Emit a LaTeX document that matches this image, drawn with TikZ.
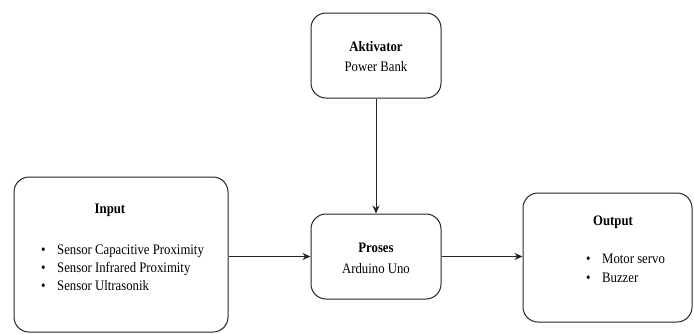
\documentclass[tikz,border=0pt]{standalone}
\usepackage{fontspec}
\setmainfont[FakeStretch=0.88]{Liberation Serif}
\usetikzlibrary{arrows.meta}
\tikzset{
  box/.style={draw=black!85, line width=1pt, rounded corners=15pt, fill=white, inner sep=0pt},
  txt/.style={inner sep=0pt, anchor=base, font=\fontsize{14.5}{16}\selectfont},
  ttl/.style={txt, font=\fontsize{14.5}{16}\selectfont\bfseries},
  itm/.style={inner sep=0pt, anchor=base west, font=\fontsize{14.5}{16}\selectfont},
  arr/.style={draw=black!85, line width=1pt, -{Stealth[length=8pt,width=7pt]}}
}
\newcommand{\bul}{\textbullet\hspace{11.5pt}}
\begin{document}
\begin{tikzpicture}[x=1pt,y=-1pt]
\useasboundingbox (0,0) rectangle (694,333);
% boxes
\node[box, minimum width=130pt, minimum height=85pt] (akt) at (376,55.5) {};
\node[box, minimum width=130pt, minimum height=85pt] (pro) at (376,256.5) {};
\node[box, minimum width=214pt, minimum height=155pt] (inp) at (121,254.5) {};
\node[box, minimum width=169pt, minimum height=129pt] (out) at (607.5,257.5) {};
% texts
\node[ttl] (aktT) at (376,51) {Aktivator};
\node[txt] (aktS) at (376,71) {Power Bank};
\node[ttl] (proT) at (376,252) {Proses};
\node[txt] (proS) at (376,273) {Arduino Uno};
\node[ttl] (inpT) at (110,213) {Input};
\node[itm] (inp1) at (41,254) {\bul Sensor Capacitive Proximity};
\node[itm] (inp2) at (41,272) {\bul Sensor Infrared Proximity};
\node[itm] (inp3) at (41,290) {\bul Sensor Ultrasonik};
\node[ttl] (outT) at (613,225) {Output};
\node[itm] (out1) at (586,263) {\bul Motor servo};
\node[itm] (out2) at (586,282) {\bul Buzzer};
% connectors
\draw[arr] (akt.south) -- (pro.north);
\draw[arr] (inp.east |- pro.west) -- (pro.west);
\draw[arr] (pro.east) -- (out.west |- pro.east);
\end{tikzpicture}
\end{document}
